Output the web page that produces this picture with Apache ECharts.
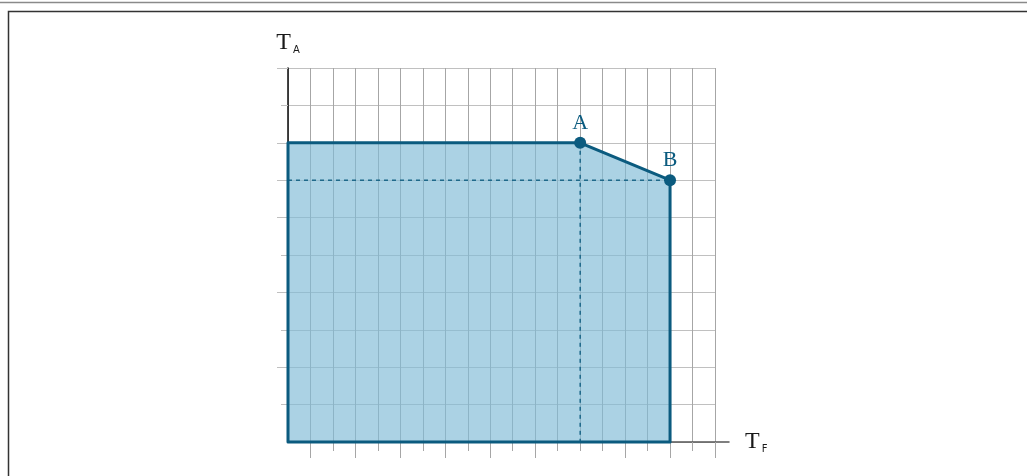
<!DOCTYPE html>
<html><head><meta charset="utf-8">
<script src="https://cdn.jsdelivr.net/npm/echarts@6/dist/echarts.min.js"></script>
<style>html,body{margin:0;padding:0;background:#fff}#c{width:1027px;height:476px}</style>
</head><body><div id="c"></div>
<script>
// ---- data ----
const xRange = [0, 19];
const yRange = [0, 10];
const regionX = [0, 0, 13, 17, 17];
const regionY = [0, 8, 8, 7, 0];
const pointNames = ['A', 'B'];
const pointX = [13, 17];
const pointY = [8, 7];
const xLongTicks = [1, 3, 5, 7, 9, 11, 15, 17, 19];
const xShortTicks = [2, 4, 6, 8, 10, 12, 13, 14, 16, 18];
const yLongTicks = [2, 4, 6, 7, 8, 10];
const yShortTicks = [1, 3, 5, 9];
const xName = ['T', 'F'];
const yName = ['T', 'A'];

// ---- styles ----
const teal = '#0b5b7f';
const fill = 'rgba(128,186,214,0.66)';
const vGrid = '#a6a6a6';
const hGrid = '#c0c0c0';

function nameRich() {
  return {
    t: {fontFamily: 'Liberation Serif', fontSize: 24, lineHeight: 24, color: '#1a1a1a', verticalAlign: 'top', padding: [0, 2, 0, 0]},
    s: {fontFamily: 'DejaVu Sans', fontSize: 10, lineHeight: 10, color: '#1a1a1a', verticalAlign: 'bottom', padding: [18, 0, 0, 0]}
  };
}
const hidden = {show: false};

function tickAxisX(vals, len) {
  return {type: 'value', gridIndex: 0, position: 'bottom', min: xRange[0], max: xRange[1],
    axisLine: hidden, splitLine: hidden,
    axisLabel: {show: false, customValues: vals},
    axisTick: {show: true, customValues: vals, length: len, lineStyle: {color: vGrid, width: 1}}};
}
function tickAxisY(vals, len) {
  return {type: 'value', gridIndex: 0, position: 'left', min: yRange[0], max: yRange[1],
    axisLine: hidden, splitLine: hidden,
    axisLabel: {show: false, customValues: vals},
    axisTick: {show: true, customValues: vals, length: len, lineStyle: {color: hGrid, width: 1}}};
}

const chart = echarts.init(document.getElementById('c'), null, {renderer: 'canvas'});
chart.setOption({
  animation: false,
  grid: [
    {left: 288, top: 68, width: 427, height: 374},
    {left: 288, top: 68, width: 441, height: 374}
  ],
  graphic: [
    {type: 'line', shape: {x1: 0, y1: 2.5, x2: 1027, y2: 2.5}, style: {stroke: '#8a8a8a', lineWidth: 1.5}},
    {type: 'rect', shape: {x: 8.5, y: 11.5, width: 1100, height: 600}, style: {fill: null, stroke: '#333', lineWidth: 1.5}}
  ],
  xAxis: [
    {type: 'value', gridIndex: 0, min: xRange[0], max: xRange[1], interval: 1,
      axisLine: hidden, axisTick: hidden, axisLabel: hidden,
      splitLine: {show: true, lineStyle: {color: vGrid, width: 1}}},
    tickAxisX(xLongTicks, 16),
    tickAxisX(xShortTicks, 9),
    {type: 'value', gridIndex: 1, position: 'bottom', min: 0, max: 1,
      axisLine: {show: true, lineStyle: {color: '#555', width: 1.5}},
      axisTick: hidden, axisLabel: hidden, splitLine: hidden,
      name: '{t|' + xName[0] + '}{s|' + xName[1] + '}', nameLocation: 'end', nameGap: 16,
      nameTextStyle: {rich: nameRich()}}
  ],
  yAxis: [
    {type: 'value', gridIndex: 0, min: yRange[0], max: yRange[1], interval: 1,
      axisLine: {show: true, lineStyle: {color: '#1a1a1a', width: 1.6}},
      axisTick: hidden, axisLabel: hidden,
      splitLine: {show: true, lineStyle: {color: hGrid, width: 1}},
      name: '{t|' + yName[0] + '}{s|' + yName[1] + '}', nameLocation: 'end', nameGap: 13,
      nameTextStyle: {rich: nameRich()}},
    tickAxisY(yLongTicks, 11),
    tickAxisY(yShortTicks, 7),
    {type: 'value', gridIndex: 1, show: false, min: 0, max: 1}
  ],
  series: [
    {type: 'custom', coordinateSystem: 'cartesian2d', xAxisIndex: 0, yAxisIndex: 0,
      silent: true, clip: false, z: 2,
      data: [[regionX[0], regionY[0]]],
      renderItem: function (params, api) {
        const pts = regionX.map((x, i) => api.coord([x, regionY[i]]));
        return {type: 'polygon', shape: {points: pts},
          style: {fill: fill, stroke: teal, lineWidth: 3, lineJoin: 'round'}};
      }},
    {type: 'line', xAxisIndex: 0, yAxisIndex: 0, symbol: 'none', silent: true, z: 3,
      data: [[xRange[0], pointY[1]], [pointX[1], pointY[1]]],
      lineStyle: {color: teal, width: 1.3, type: [4, 4]}},
    {type: 'line', xAxisIndex: 0, yAxisIndex: 0, symbol: 'none', silent: true, z: 3,
      data: [[pointX[0], pointY[0]], [pointX[0], yRange[0]]],
      lineStyle: {color: teal, width: 1.3, type: [4, 4]}},
    {type: 'scatter', xAxisIndex: 0, yAxisIndex: 0, symbolSize: 12, z: 5, silent: true,
      itemStyle: {color: teal, opacity: 1},
      data: pointX.map((x, i) => ({value: [x, pointY[i]], name: pointNames[i]})),
      label: {show: true, position: 'top', distance: 3, formatter: '{b}', opacity: 1,
        fontFamily: 'Liberation Serif', fontSize: 22, color: teal}}
  ]
});
</script>
</body></html>
